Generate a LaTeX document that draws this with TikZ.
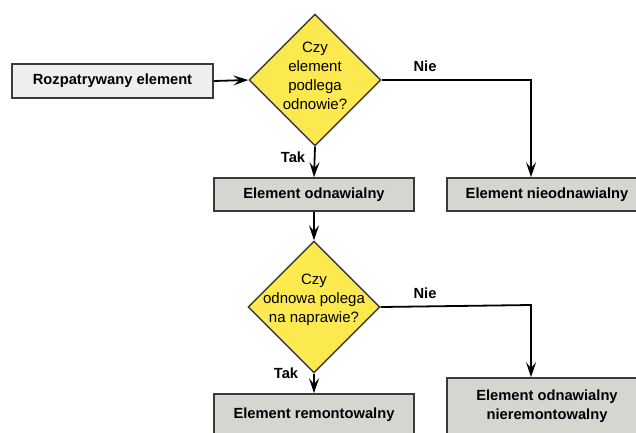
\documentclass[tikz,border=0pt]{standalone}
\usepackage{fontspec}
\setmainfont{Liberation Sans}
\usetikzlibrary{shapes.geometric,arrows.meta}
\definecolor{boxfill}{HTML}{D3D7CF}
\definecolor{startfill}{HTML}{EEEEEC}
\definecolor{decfill}{HTML}{FCE94F}
\definecolor{bord}{HTML}{3A3A3A}
\tikzset{
  stepbox/.style={draw=bord, line width=1.6pt, fill=boxfill, minimum width=200pt, inner sep=0pt, align=center,
    font=\fontsize{14.7}{19}\selectfont\bfseries},
  decbox/.style={diamond, draw=bord, line width=1.4pt, fill=decfill, minimum width=132pt, minimum height=132pt, inner sep=0pt},
  dectext/.style={align=center, font=\fontsize{15}{19}\selectfont, inner sep=0pt},
  lab/.style={font=\fontsize{14.7}{17}\selectfont\bfseries, inner sep=0pt},
  arr/.style={line width=1.8pt, -{Stealth[length=15pt, width=10pt, inset=6pt]}}
}
\begin{document}
\begin{tikzpicture}[x=1pt, y=-1pt]
\useasboundingbox (0,0) rectangle (636,432);
\clip (0,0) rectangle (636,432);
\node[stepbox, fill=startfill, minimum width=201pt, minimum height=34pt] (r) at (112.5,81) {Rozpatrywany element};
\node[decbox] (d1) at (315,80) {};
\node[dectext] (t1) at (315,75.5) {Czy\\element\\podlega\\odnowie?};
\node[stepbox, minimum height=33pt] (e1) at (314,194.5) {Element odnawialny};
\node[stepbox, minimum height=33pt] (e2) at (547,194.5) {Element nieodnawialny};
\node[decbox] (d2) at (314,307) {};
\node[dectext] (t2) at (314,300) {Czy\\odnowa polega\\na naprawie?};
\node[stepbox, minimum height=42pt] (e3) at (314,415) {Element remontowalny};
\node[stepbox, minimum height=57pt] (e4) at (547,406.5) {Element odnawialny\\nieremontowalny};
\coordinate (c1) at (531,80);
\coordinate (c2) at (531,305);
\draw[arr] (r.east) -- (d1.west);
\draw[arr] (d1.east) -- (c1) -- (c1 |- e2.north);
\draw[arr] (d1.south) -- (e1.north);
\draw[arr] (e1.south) -- (d2.north);
\draw[arr] (d2.east) -- (c2) -- (c2 |- e4.north);
\draw[arr] (d2.south) -- (e3.north);
\node[lab] (n1) at (425,66) {Nie};
\node[lab] (n2) at (425,293) {Nie};
\node[lab] (k1) at (293,157) {Tak};
\node[lab] (k2) at (286,373) {Tak};
\end{tikzpicture}
\end{document}
